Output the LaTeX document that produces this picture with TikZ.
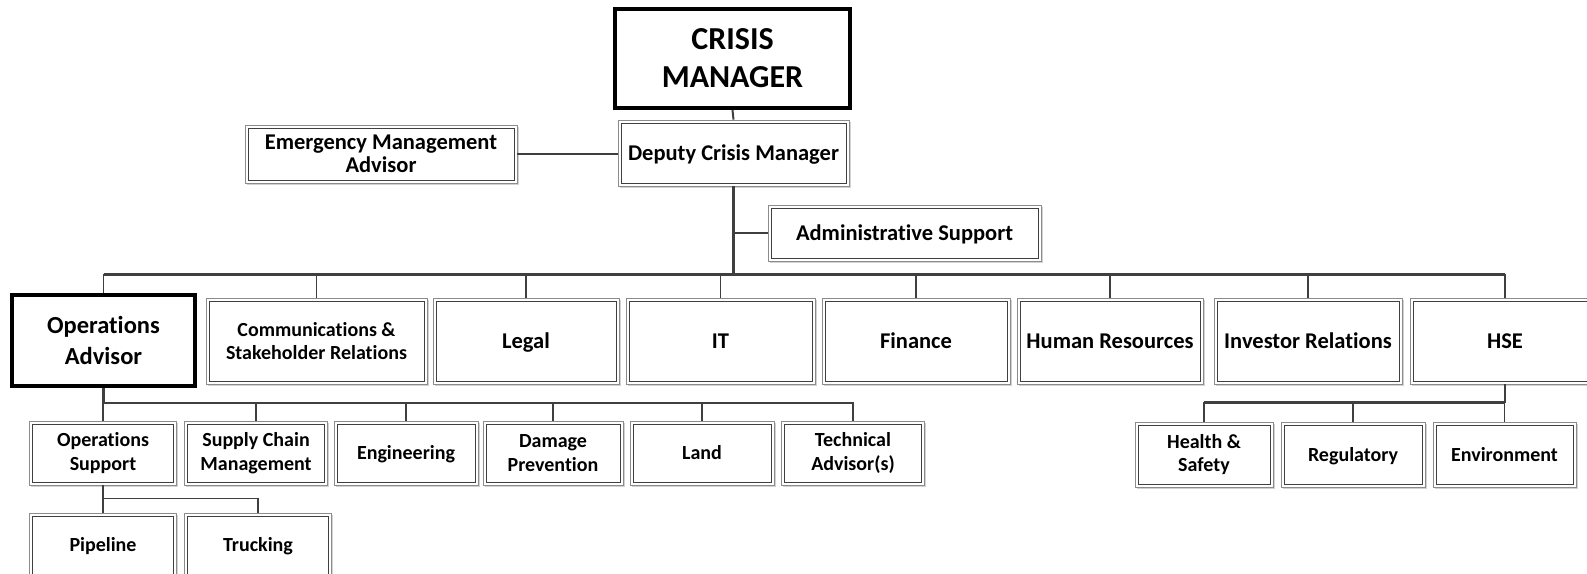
\documentclass[tikz,border=0pt]{standalone}
\usepackage{fontspec}
\setmainfont{Carlito}[Ligatures=NoCommon]
\usetikzlibrary{shadows,calc}
\definecolor{linec}{HTML}{3F3F3F}
\newcommand{\fbig}{\fontsize{32}{38}\selectfont\bfseries}
\newcommand{\fmid}{\fontsize{22.5}{22.5}\selectfont\bfseries}
\newcommand{\foa}{\fontsize{24.5}{31}\selectfont\bfseries}
\newcommand{\fsmall}{\fontsize{20}{23.5}\selectfont\bfseries}
\tikzset{
  dbox/.style={draw=black!45, line width=0.8pt, fill=white, inner sep=0pt, align=center,
    drop shadow={shadow xshift=1.5pt, shadow yshift=-1.5pt, fill=black!35, opacity=0.5},
    path picture={\draw[black!75, line width=0.9pt]
      ([shift={(3pt,-3pt)}]path picture bounding box.north west) rectangle
      ([shift={(-3pt,3pt)}]path picture bounding box.south east);}},
  tbox/.style={draw=black, fill=white, inner sep=0pt, align=center},
  onem/.style={text height=14.6pt, text depth=0pt},
  ones/.style={text height=13pt, text depth=0pt},
  thin/.style={draw=linec, line width=1.5pt},
  trunk/.style={draw=linec, line width=2.5pt},
}
\begin{document}
\begin{tikzpicture}[x=1pt,y=-1pt]
\clip (0,0) rectangle (1587,573);
\fill[white] (0,0) rectangle (1587,573);

% nodes
\node[tbox, line width=4pt, minimum width=235pt, minimum height=99pt, font=\fbig] (cm) at (732.5,58.5) {CRISIS\\MANAGER};
\node[dbox, onem, minimum width=231pt, minimum height=66pt, font=\fmid] (dcm) at (733.5,153) {Deputy Crisis Manager};
\node[dbox, minimum width=272pt, minimum height=58pt, font=\fmid] (ema) at (381,154) {Emergency Management\\Advisor};
\node[dbox, onem, minimum width=273pt, minimum height=56pt, font=\fmid] (as) at (904.5,233) {Administrative Support};

\node[tbox, line width=3.5pt, minimum width=183pt, minimum height=91pt, font=\foa] (oa) at (103.5,340.5) {Operations\\Advisor};
\node[dbox, minimum width=221pt, minimum height=86pt, font=\fsmall] (comm) at (316.5,341) {Communications \&\\Stakeholder Relations};
\node[dbox, onem, minimum width=186pt, minimum height=86pt, font=\fmid] (legal) at (526,341) {Legal};
\node[dbox, onem, minimum width=189pt, minimum height=86pt, font=\fmid] (it) at (720.5,341) {IT};
\node[dbox, onem, minimum width=188pt, minimum height=86pt, font=\fmid] (fin) at (916,341) {Finance};
\node[dbox, onem, minimum width=186pt, minimum height=86pt, font=\fmid] (hr) at (1110,341) {Human Resources};
\node[dbox, onem, minimum width=188pt, minimum height=86pt, font=\fmid] (ir) at (1308,341) {Investor Relations};
\node[dbox, onem, minimum width=190pt, minimum height=86pt, font=\fmid] (hse) at (1505,341) {HSE};

\node[dbox, minimum width=147pt, minimum height=64pt, font=\fsmall] (os) at (103,453) {Operations\\Support};
\node[dbox, minimum width=143pt, minimum height=64pt, font=\fsmall] (scm) at (256,453) {Supply Chain\\Management};
\node[dbox, ones, minimum width=144pt, minimum height=64pt, font=\fsmall] (eng) at (406,453) {Engineering};
\node[dbox, minimum width=140pt, minimum height=64pt, font=\fsmall] (dp) at (553,453) {Damage\\Prevention};
\node[dbox, ones, minimum width=144pt, minimum height=64pt, font=\fsmall] (land) at (702,453) {Land};
\node[dbox, minimum width=143pt, minimum height=64pt, font=\fsmall] (tech) at (853,453) {Technical\\Advisor(s)};

\node[dbox, minimum width=138pt, minimum height=65pt, font=\fsmall] (hs) at (1204,454.5) {Health \&\\Safety};
\node[dbox, ones, minimum width=144pt, minimum height=65pt, font=\fsmall] (reg) at (1353,454.5) {Regulatory};
\node[dbox, ones, minimum width=143pt, minimum height=65pt, font=\fsmall] (env) at (1504.5,454.5) {Environment};

\node[dbox, ones, minimum width=147pt, minimum height=64pt, font=\fsmall] (pipe) at (103,545) {Pipeline};
\node[dbox, ones, minimum width=147pt, minimum height=64pt, font=\fsmall] (truck) at (258,545) {Trucking};

% connectors
\coordinate (bus) at ($(dcm.south)+(0,88)$);
\coordinate (obus) at ($(oa.south)+(0,15)$);
\coordinate (hbus) at ($(hse.south)+(0,18)$);
\coordinate (sbus) at ($(os.south)+(0,13)$);

\draw[linec, line width=2pt] (cm.south) -- (dcm.north);
\draw[thin] (ema.east) -- (ema.east -| dcm.west);
\draw[thin] (dcm.south |- as.west) -- (as.west);
\foreach \n in {oa,comm,legal,it,fin,hr,ir,hse} \draw[thin] (bus) -| (\n.north);
\draw[trunk] (dcm.south) -- (bus);
\draw[trunk] (bus -| oa.north) -- (bus -| hse.north);

\draw[trunk] (oa.south) -- (obus);
\foreach \n in {os,scm,eng,dp,land,tech} \draw[thin] (obus) -| (\n.north);
\draw[trunk] (obus) -- (obus -| tech.north);

\draw[trunk] (hse.south) -- (hbus);
\foreach \n in {hs,reg,env} \draw[thin] (hbus) -| (\n.north);
\draw[trunk] (hbus) -- (hbus -| hs.north);

\draw[thin] (os.south) -- (sbus);
\foreach \n in {pipe,truck} \draw[thin] (sbus) -| (\n.north);
\end{tikzpicture}
\end{document}
